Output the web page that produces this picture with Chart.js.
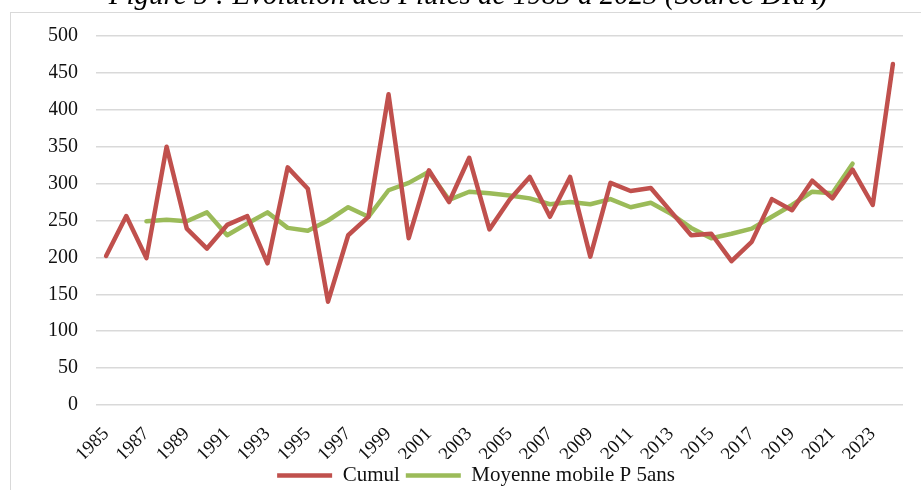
<!DOCTYPE html>
<html>
<head>
<meta charset="utf-8">
<script src="https://cdn.jsdelivr.net/npm/chart.js@4.4.0/dist/chart.umd.min.js"></script>
<style>
  html, body { margin: 0; padding: 0; background: #fff; overflow: hidden; }
  #wrap { position: relative; width: 921px; height: 490px; }
  #frame { position: absolute; left: 10px; top: 12px; width: 1000px; height: 1000px; border: 1px solid #d9d9d9; }
  canvas { position: absolute; left: 0; top: 0; }
</style>
</head>
<body>
<div id="wrap">
  <div id="frame"></div>
  <canvas id="myChart" width="921" height="490"></canvas>
</div>
<script>
const years = [
  "1985", "1986", "1987", "1988", "1989", "1990", "1991", "1992", "1993", "1994",
  "1995", "1996", "1997", "1998", "1999", "2000", "2001", "2002", "2003", "2004",
  "2005", "2006", "2007", "2008", "2009", "2010", "2011", "2012", "2013", "2014",
  "2015", "2016", "2017", "2018", "2019", "2020", "2021", "2022", "2023", "2024"
];

// pluie annuelle
const cumul = [
  202, 256, 199, 350, 239, 212, 244, 256, 192, 322,
  293, 140, 230, 255, 421, 226, 318, 275, 335, 238,
  278, 309, 255, 309, 201, 301, 290, 294, 262, 230,
  232, 195, 221, 279, 264, 304, 280, 319, 271, 462
];

// moyenne mobile 5 ans (centree)
const moyenne = [
  null, null, 249, 251, 249, 261, 230, 246, 261, 240,
  236, 250, 268, 255, 291, 301, 316, 278, 289, 287,
  284, 280, 272, 275, 272, 279, 268, 274, 259, 240,
  226, 232, 239, 255, 271, 289, 287, 327, null, null
];

const yTicks = [0, 50, 100, 150, 200, 250, 300, 350, 400, 450, 500];

const titleText = "Figure 5 : Evolution des Pluies de 1985 à 2023 (Source DRA)";
const serif = "'Liberation Serif', 'Times New Roman', serif";

const titlePlugin = {
  id: "cutTitle",
  afterDraw(chart) {
    const ctx = chart.ctx;
    ctx.save();
    ctx.font = "italic 29px " + serif;
    ctx.fillStyle = "#000";
    ctx.textAlign = "center";
    ctx.textBaseline = "alphabetic";
    ctx.fillText(titleText, 468, 4);
    ctx.restore();
  }
};

const ctx = document.getElementById("myChart").getContext("2d");

new Chart(ctx, {
  type: "line",
  data: {
    labels: years,
    datasets: [
      {
        label: "Cumul",
        data: cumul,
        borderColor: "#c0504d",
        backgroundColor: "#c0504d",
        borderWidth: 4.5,
        borderCapStyle: "round",
        borderJoinStyle: "round",
        pointRadius: 0,
        tension: 0
      },
      {
        label: "Moyenne mobile P 5ans",
        data: moyenne,
        borderColor: "#9bbb59",
        backgroundColor: "#9bbb59",
        borderWidth: 4.5,
        borderCapStyle: "round",
        borderJoinStyle: "round",
        pointRadius: 0,
        tension: 0
      }
    ]
  },
  options: {
    responsive: false,
    animation: false,
    layout: { padding: { left: 49, right: 18, top: 36, bottom: -6 } },
    scales: {
      x: {
        offset: true,
        grid: { display: false },
        border: { display: false },
        afterFit: (scale) => { scale.height = 54; },
        ticks: {
          autoSkip: false,
          minRotation: 45,
          maxRotation: 45,
          padding: 10,
          color: "#111",
          font: { family: serif, size: 19 },
          callback: function (value, index) {
            return index % 2 === 0 ? this.getLabelForValue(value) : "";
          }
        }
      },
      y: {
        min: 0,
        max: 500,
        afterFit: (scale) => { scale.width = 47; },
        afterBuildTicks: (scale) => { scale.ticks = yTicks.map((v) => ({ value: v })); },
        grid: { color: "#d9d9d9", lineWidth: 1.5, drawTicks: false },
        border: { display: false },
        ticks: {
          padding: 18,
          color: "#111",
          font: { family: serif, size: 20 }
        }
      }
    },
    plugins: {
      legend: {
        position: "bottom",
        labels: {
          usePointStyle: true,
          pointStyle: "line",
          pointStyleWidth: 55,
          padding: 6,
          color: "#111",
          font: { family: serif, size: 21 }
        }
      },
      tooltip: { enabled: false }
    }
  },
  plugins: [titlePlugin]
});
</script>
</body>
</html>
